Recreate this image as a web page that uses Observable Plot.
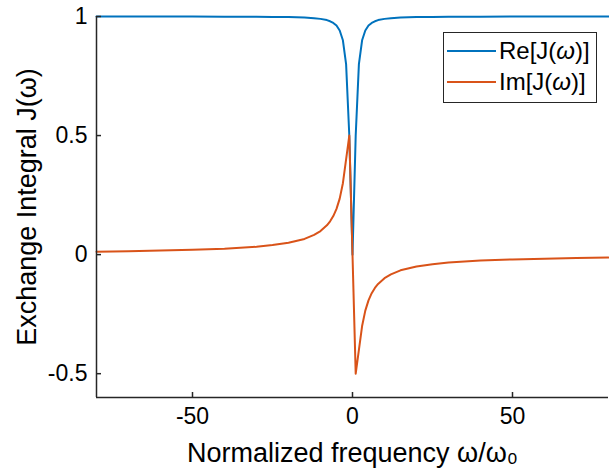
<!DOCTYPE html>
<html>
<head>
<meta charset="utf-8">
<script src="https://cdn.jsdelivr.net/npm/d3@7"></script>
<script src="https://cdn.jsdelivr.net/npm/@observablehq/plot@0.6"></script>
<style>
  body { margin: 0; background: #fff; font-family: "Liberation Sans", Arial, sans-serif; }
  #wrap { position: relative; width: 609px; height: 474px; }
  #legend { position: absolute; left: 443px; top: 32px; width: 154px; height: 71px; border: 1.5px solid #262626; background: #fff; box-sizing: border-box; font-size: 24px; color: #000; }
  .row { position: absolute; left: 3px; height: 28px; display: flex; align-items: center; }
  .sw { width: 49px; height: 0; border-top: 2px solid; margin-right: 3px; }
</style>
</head>
<body>
<div id="wrap"></div>
<script>
// normalized frequency samples
const omega = [-80,-70,-60,-50,-40,-30,-25,-20,-15,-12,-10,-8,-7,-6,-5,-4,-3,-2,-1,0,1,2,3,4,5,6,7,8,10,12,15,20,25,30,40,50,60,70,80];
// Re[J(omega)]
const reJ = [1.0,1.0,1.0,1.0,0.999,0.999,0.998,0.998,0.996,0.993,0.99,0.985,0.98,0.973,0.962,0.941,0.9,0.8,0.5,0.0,0.5,0.8,0.9,0.941,0.962,0.973,0.98,0.985,0.99,0.993,0.996,0.998,0.998,0.999,0.999,1.0,1.0,1.0,1.0];
// Im[J(omega)]
const imJ = [0.0125,0.014,0.017,0.02,0.025,0.033,0.04,0.05,0.066,0.083,0.099,0.123,0.14,0.162,0.192,0.235,0.3,0.4,0.5,0.0,-0.5,-0.4,-0.3,-0.235,-0.192,-0.162,-0.14,-0.123,-0.099,-0.083,-0.066,-0.05,-0.04,-0.033,-0.025,-0.02,-0.017,-0.014,-0.0125];
const seriesNames = ["Re[J(ω)]", "Im[J(ω)]"];
const seriesColors = ["#0072BD", "#D95319"];
const xTicks = [-50, 0, 50];
const yTicks = [-0.5, 0, 0.5, 1];
const xDomain = [-80, 80];
const yDomain = [-0.6, 1];

const reData = omega.map((w, i) => ({w, v: reJ[i]}));
const imData = omega.map((w, i) => ({w, v: imJ[i]}));

const tickLenX = 5 / 237 ; // in y units
const tickLenY = 5 / 3.2;  // in x units

const chart = Plot.plot({
  width: 609,
  height: 474,
  marginLeft: 96,
  marginTop: 16,
  marginRight: 1,
  marginBottom: 77,
  style: {fontFamily: "Liberation Sans, Arial, sans-serif", color: "#000", background: "#fff"},
  x: {domain: xDomain},
  y: {domain: yDomain},
  marks: [
    Plot.axisX(xTicks, {tickSize: 0, tickPadding: 10, fontSize: 23, tickFormat: d => String(d), label: null}),
    Plot.axisY(yTicks, {tickSize: 0, tickPadding: 9, fontSize: 23, tickFormat: d => String(d), label: null}),
    Plot.axisX({ticks: [], label: "Normalized frequency ω/ω₀", labelAnchor: "center", labelArrow: "none", labelOffset: 64, fontSize: 27}),
    Plot.axisY({ticks: [], label: "Exchange Integral J(ω)", labelAnchor: "center", labelArrow: "none", labelOffset: 80, fontSize: 27}),
    Plot.line(reData, {x: "w", y: "v", stroke: seriesColors[0], strokeWidth: 2}),
    Plot.line(imData, {x: "w", y: "v", stroke: seriesColors[1], strokeWidth: 2}),
    Plot.ruleX(xTicks, {y1: yDomain[0], y2: yDomain[0] + tickLenX, stroke: "#262626", strokeWidth: 1.5}),
    Plot.ruleY(yTicks, {x1: xDomain[0], x2: xDomain[0] + tickLenY, stroke: "#262626", strokeWidth: 1.5}),
    Plot.ruleX([xDomain[0]], {stroke: "#262626", strokeWidth: 1.5}),
    Plot.ruleY([yDomain[0]], {stroke: "#262626", strokeWidth: 1.5})
  ]
});
const wrap = document.getElementById("wrap");
wrap.appendChild(chart);

const legend = document.createElement("div");
legend.id = "legend";
seriesNames.forEach((n, i) => {
  const row = document.createElement("div");
  row.className = "row";
  row.style.top = (i === 0 ? 4 : 35) + "px";
  const sw = document.createElement("span");
  sw.className = "sw";
  sw.style.borderTopColor = seriesColors[i];
  const t = document.createElement("span");
  t.innerHTML = n.replace("ω", "<i>ω</i>");
  row.appendChild(sw); row.appendChild(t);
  legend.appendChild(row);
});
wrap.appendChild(legend);
</script>
</body>
</html>
